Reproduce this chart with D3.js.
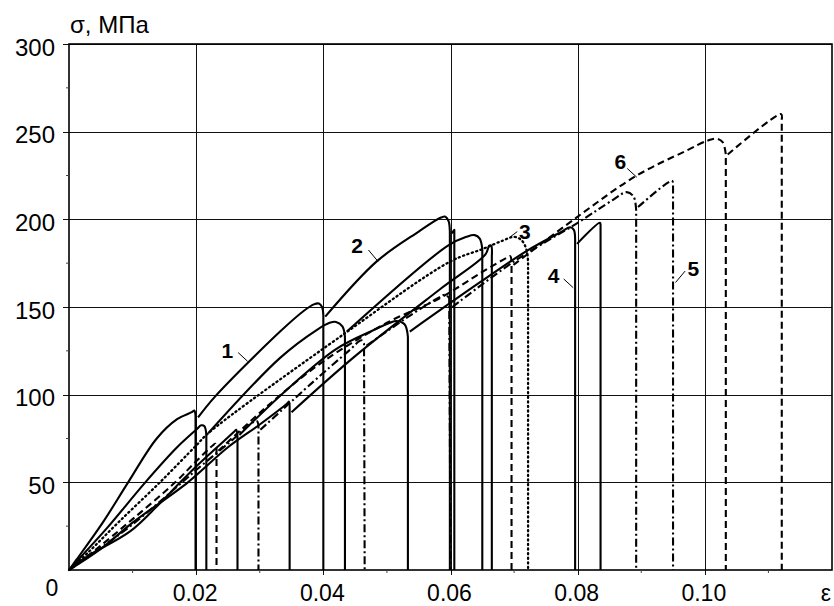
<!DOCTYPE html>
<html>
<head>
<meta charset="utf-8">
<script src="https://cdn.jsdelivr.net/npm/d3@7/dist/d3.min.js"></script>
<style>
  html, body { margin: 0; padding: 0; background: #fff; }
  svg { display: block; font-family: "Liberation Sans", Arial, sans-serif; }
  .grid line { stroke: #111; stroke-width: 1; }
  .curve { fill: none; stroke: #000; stroke-linejoin: round; }
</style>
</head>
<body>
<svg id="chart" width="834" height="606"></svg>
<script>
// tick values
const xTicks = [0.02, 0.04, 0.06, 0.08, 0.10];
const xTickLabels = ['0.02', '0.04', '0.06', '0.08', '0.10'];
const yTicks = [50, 100, 150, 200, 250, 300];

// each curve: list of loading segments [strain, stress]; last point of a segment = drop to zero
const curve1 = [
  [[0,0],[0.0012,6],[0.0053,27],[0.0093,50],[0.0138,75],[0.017,86],[0.0193,90],[0.0197,91],[0.0199,88],[0.0199,0]],
  [[0.0203,87],[0.023,99],[0.0332,136],[0.037,148],[0.0385,151.5],[0.0393,152],[0.0398,150],[0.0400,145],[0.0400,0]],
  [[0.0403,144.5],[0.0484,176],[0.055,193],[0.0585,201],[0.0592,201.5],[0.0597,199],[0.0599,193],[0.0599,0]],
  [[0.0602,192],[0.0606,194],[0.0606,0]]
];
const curve2 = [
  [[0,0],[0.002,8],[0.006,24],[0.012,50],[0.017,70],[0.020,80],[0.0208,82.5],[0.0213,82],[0.0216,77],[0.0216,0]],
  [[0.0219,78],[0.0332,121],[0.039,137],[0.041,141],[0.0420,141.5],[0.0430,139],[0.0434,133],[0.0434,0]],
  [[0.0437,136],[0.0596,185],[0.0625,190],[0.0638,191],[0.0646,189],[0.0650,183],[0.0650,0]]
];
const curve3 = [
  [[0,0],[0.003,10],[0.008,28],[0.0143,50],[0.020,71],[0.0219,78],[0.0434,135],[0.060,176],[0.065,183],[0.0683,188],[0.0700,190],[0.0712,188],[0.0720,182],[0.0722,175],[0.0722,0]]
];
const curve4 = [
  [[0,0],[0.003,8],[0.0096,22],[0.014,37],[0.0175,50],[0.020,59],[0.0245,74],[0.0260,79],[0.0263,80],[0.0265,76],[0.0265,0]],
  [[0.0268,77],[0.034,102],[0.042,126],[0.048,137],[0.0505,141],[0.0515,142],[0.0528,140],[0.0533,133],[0.0533,0]],
  [[0.0536,136],[0.0646,164],[0.072,182],[0.0775,193],[0.0788,195.5],[0.0794,194],[0.0796,188],[0.0796,0]],
  [[0.0799,186],[0.0835,198],[0.0836,197],[0.0836,0]]
];
const curve5 = [
  [[0,0],[0.004,10],[0.010,26],[0.0178,50],[0.020,57],[0.025,72],[0.0295,85],[0.0298,82],[0.0298,0]],
  [[0.0301,80],[0.038,106],[0.0440,125],[0.0460,131],[0.0464,129],[0.0465,0]],
  [[0.0468,128],[0.054,146],[0.0580,155],[0.0592,157],[0.0598,155],[0.0600,0]],
  [[0.0603,150],[0.070,176],[0.080,198],[0.0855,211],[0.0877,215.5],[0.0888,213],[0.0892,205],[0.0892,0]],
  [[0.0895,207],[0.0948,222],[0.0950,221],[0.0950,0]]
];
const curve6 = [
  [[0,0],[0.004,11],[0.010,29],[0.0167,50],[0.020,62],[0.0226,71],[0.0230,72],[0.0232,69],[0.0232,0]],
  [[0.0235,68],[0.032,96],[0.040,119],[0.050,141],[0.0583,155],[0.065,170],[0.0688,178],[0.0694,179],[0.0696,175],[0.0696,0]],
  [[0.0699,174],[0.0798,201],[0.0893,225],[0.097,239],[0.1005,245],[0.1018,246],[0.1028,244],[0.1033,237],[0.1033,0]],
  [[0.1036,237],[0.112,260],[0.1121,257],[0.1121,0]]
];
const curve7 = [
  [[0,0],[0.005,12],[0.010,27],[0.0187,50],[0.025,70],[0.030,83],[0.0343,95],[0.0346,96],[0.0347,92],[0.0347,0]],
  [[0.0350,90],[0.045,122],[0.0583,160],[0.0655,180],[0.0661,185],[0.0664,185],[0.0665,179],[0.0665,0]]
];

// curve labels: text, label point, leader start, leader end (strain, stress)
const labels = [
  { t: '1', at: [0.0249, 125], from: [0.0266, 124], to: [0.0281, 119] },
  { t: '2', at: [0.0453, 185], from: [0.0471, 182.5], to: [0.0486, 176] },
  { t: '3', at: [0.0717, 193], from: [0.0705, 193], to: [0.0694, 190] },
  { t: '4', at: [0.0762, 168], from: [0.0778, 166], to: [0.0793, 161] },
  { t: '5', at: [0.0982, 172], from: [0.0969, 170.5], to: [0.0954, 164] },
  { t: '6', at: [0.0867, 233], from: [0.0878, 229], to: [0.0893, 224] }
];

const series = [
  { data: curve5, width: 2.1, dash: '8,3,2,3' },
  { data: curve6, width: 2.1, dash: '7,4' },
  { data: curve7, width: 2.1, dash: null },
  { data: curve4, width: 2.1, dash: null },
  { data: curve3, width: 2.3, dash: '1.2,3.4' },
  { data: curve2, width: 2.1, dash: null },
  { data: curve1, width: 2.1, dash: null }
];

const svg = d3.select('#chart');
const margin = { left: 69, right: 2, top: 44, bottom: 36 };
const W = 834, H = 606;

const x = d3.scaleLinear().domain([0, 0.12]).range([margin.left, W - margin.right]);
const y = d3.scaleLinear().domain([0, 300]).range([H - margin.bottom, margin.top]);

/* grid */
const grid = svg.append('g').attr('class', 'grid');
grid.selectAll('.gx').data(xTicks).enter().append('line')
  .attr('x1', d => Math.round(x(d)) + 0.5).attr('x2', d => Math.round(x(d)) + 0.5)
  .attr('y1', y(300)).attr('y2', y(0) + 5);
grid.selectAll('.gy').data(yTicks).enter().append('line')
  .attr('y1', d => Math.round(y(d)) + 0.5).attr('y2', d => Math.round(y(d)) + 0.5)
  .attr('x1', x(0) - 6).attr('x2', x(0.12));

/* frame */
svg.append('rect')
  .attr('x', x(0)).attr('y', y(300))
  .attr('width', x(0.12) - x(0)).attr('height', y(0) - y(300))
  .attr('fill', 'none').attr('stroke', '#000').attr('stroke-width', 1.6);

/* minor ticks */
const minorX = d3.range(0.01, 0.12, 0.02);
svg.selectAll('.mx').data(minorX).enter().append('line')
  .attr('x1', d => x(d)).attr('x2', d => x(d))
  .attr('y1', y(0)).attr('y2', y(0) + 3)
  .attr('stroke', '#444').attr('stroke-width', 1);
const minorY = d3.range(25, 300, 50);
svg.selectAll('.my').data(minorY).enter().append('line')
  .attr('x1', x(0) - 3).attr('x2', x(0))
  .attr('y1', d => y(d)).attr('y2', d => y(d))
  .attr('stroke', '#444').attr('stroke-width', 1);

/* curves */
const smooth = d3.line().x(d => x(d[0])).y(d => y(d[1])).curve(d3.curveCatmullRom.alpha(0.5));
const g = svg.append('g');
series.forEach(s => {
  s.data.forEach(seg => {
    const body = seg.slice(0, -1);
    const end = seg[seg.length - 1];
    const p = smooth(body) + 'L' + x(end[0]) + ',' + y(end[1]);
    g.append('path').attr('class', 'curve').attr('d', p)
      .attr('stroke-width', s.width)
      .attr('stroke-dasharray', s.dash)
      .attr('stroke-linecap', s.dash && s.dash.startsWith('1.2') ? 'round' : 'butt');
  });
});

/* labels */
labels.forEach(l => {
  svg.append('line')
    .attr('x1', x(l.from[0])).attr('y1', y(l.from[1]))
    .attr('x2', x(l.to[0])).attr('y2', y(l.to[1]))
    .attr('stroke', '#000').attr('stroke-width', 1);
  svg.append('text')
    .attr('x', x(l.at[0])).attr('y', y(l.at[1]))
    .attr('text-anchor', 'middle').attr('dominant-baseline', 'central')
    .attr('font-size', 21).attr('font-weight', 'bold')
    .text(l.t);
});

/* tick labels */
svg.selectAll('.yl').data(yTicks).enter().append('text')
  .attr('x', x(0) - 14).attr('y', d => y(d) + 11.5)
  .attr('text-anchor', 'end').attr('font-size', 24)
  .text(d => d);
svg.selectAll('.xl').data(xTicks).enter().append('text')
  .attr('x', d => x(d) - 1).attr('y', 601)
  .attr('text-anchor', 'middle').attr('font-size', 23)
  .text((d, i) => xTickLabels[i]);
svg.append('text').attr('x', x(0) - 17).attr('y', 596)
  .attr('text-anchor', 'middle').attr('font-size', 23).text('0');

/* axis titles */
svg.append('text').attr('x', 70).attr('y', 33).attr('font-size', 24).text('σ, МПа');
svg.append('text').attr('x', 826).attr('y', 601).attr('text-anchor', 'middle').attr('font-size', 23).text('ε');
</script>
</body>
</html>
